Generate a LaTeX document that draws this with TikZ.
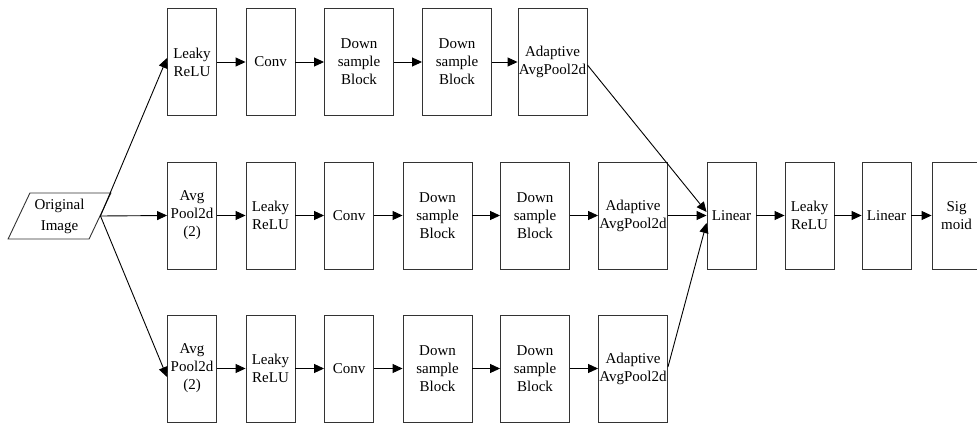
\documentclass[tikz,border=0pt]{standalone}
\usepackage{fontspec}
\setmainfont{Liberation Serif}
\usetikzlibrary{arrows.meta,shapes.geometric}
\begin{document}
\begin{tikzpicture}[x=1pt,y=-1pt,
 blk/.style={draw=black!80, line width=0.9pt, minimum width=49pt, minimum height=107pt, inner sep=0pt, align=center, font=\fontsize{15}{18}\selectfont},
 wide/.style={blk, minimum width=69pt},
 arr/.style={line width=0.9pt, -{Triangle[length=10pt,width=9pt]}},
 para/.style={trapezium, trapezium left angle=62, trapezium right angle=118, trapezium stretches=true, draw=black!80, line width=0.9pt, minimum width=103pt, minimum height=46pt, inner sep=0pt, align=center, font=\fontsize{15}{21}\selectfont},
]
\useasboundingbox (0,0) rectangle (977,423);
% input
\node[para] (img) at (59.5,216) {Original\\Image};
% top row
\node[blk]  (tl)  at (192,62)   {Leaky\\ReLU};
\node[blk]  (tc)  at (270.5,62) {Conv};
\node[wide] (td1) at (359,62)   {Down\\sample\\Block};
\node[wide] (td2) at (457,62)   {Down\\sample\\Block};
\node[wide] (ta)  at (552.5,62) {Adaptive\\AvgPool2d};
% middle row
\node[blk]  (mp)  at (192,215.5)   {Avg\\Pool2d\\(2)};
\node[blk]  (ml)  at (270.5,215.5) {Leaky\\ReLU};
\node[blk]  (mc)  at (349,215.5)   {Conv};
\node[wide] (md1) at (437.5,215.5) {Down\\sample\\Block};
\node[wide] (md2) at (535,215.5)   {Down\\sample\\Block};
\node[wide] (ma)  at (633,215.5)   {Adaptive\\AvgPool2d};
\node[blk]  (lin1) at (731.5,215.5) {Linear};
\node[blk]  (lr)   at (809.5,215.5) {Leaky\\ReLU};
\node[blk]  (lin2) at (886.5,215.5) {Linear};
\node[blk]  (sig)  at (956.5,215.5) {Sig\\moid};
% bottom row
\node[blk]  (bp)  at (192,368.5)   {Avg\\Pool2d\\(2)};
\node[blk]  (bl)  at (270.5,368.5) {Leaky\\ReLU};
\node[blk]  (bc)  at (349,368.5)   {Conv};
\node[wide] (bd1) at (437.5,368.5) {Down\\sample\\Block};
\node[wide] (bd2) at (535,368.5)   {Down\\sample\\Block};
\node[wide] (ba)  at (633,368.5)   {Adaptive\\AvgPool2d};
% connectors from input
\draw[arr] (img.east) -- ([yshift=4pt]tl.west);
\draw[arr] (img.east) -- (mp.west);
\draw[arr] (img.east) -- ([yshift=-8.5pt]bp.west);
% top row
\draw[arr] (tl) -- (tc);
\draw[arr] (tc) -- (td1);
\draw[arr] (td1) -- (td2);
\draw[arr] (td2) -- (ta);
% middle row
\draw[arr] (mp) -- (ml);
\draw[arr] (ml) -- (mc);
\draw[arr] (mc) -- (md1);
\draw[arr] (md1) -- (md2);
\draw[arr] (md2) -- (ma);
\draw[arr] (ma) -- (lin1);
\draw[arr] (lin1) -- (lr);
\draw[arr] (lr) -- (lin2);
\draw[arr] (lin2) -- (sig);
% bottom row
\draw[arr] (bp) -- (bl);
\draw[arr] (bl) -- (bc);
\draw[arr] (bc) -- (bd1);
\draw[arr] (bd1) -- (bd2);
\draw[arr] (bd2) -- (ba);
% merges
\draw[arr] ([yshift=-3pt]ta.east) -- ([yshift=3.5pt]lin1.west);
\draw[arr] ([yshift=1.5pt]ba.east) -- ([yshift=-7.5pt]lin1.west);
\end{tikzpicture}
\end{document}
